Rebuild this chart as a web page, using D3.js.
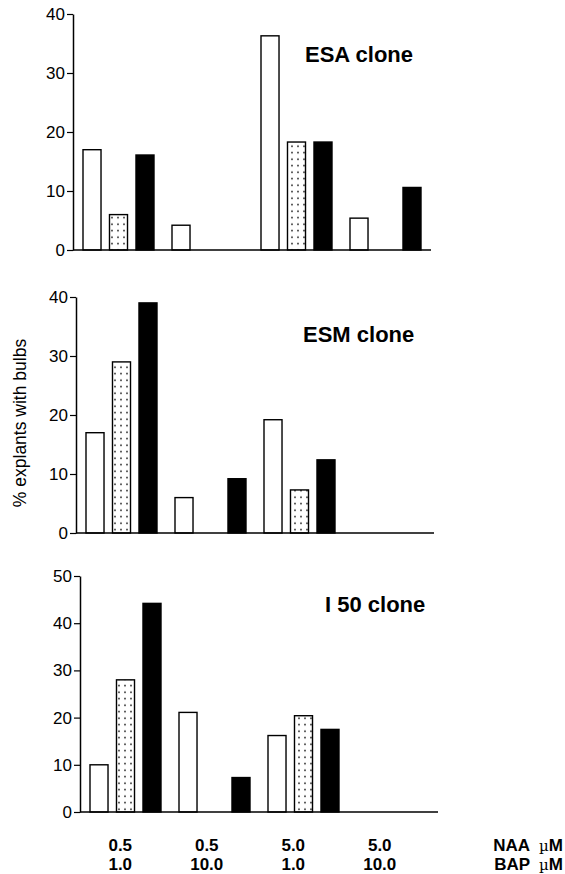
<!DOCTYPE html>
<html>
<head>
<meta charset="utf-8">
<script src="https://cdn.jsdelivr.net/npm/d3@7"></script>
<style>
  body { margin: 0; background: #fff; }
  text { font-family: "Liberation Sans", Arial, sans-serif; fill: #000; }
</style>
</head>
<body>
<div id="chart"></div>
<script>
// treatments (NAA / BAP, µM)
const groups = ["0.5/1.0", "0.5/10.0", "5.0/1.0", "5.0/10.0"];
const naaLabels = ["0.5", "0.5", "5.0", "5.0"];
const bapLabels = ["1.0", "10.0", "1.0", "10.0"];
const series = ["open", "dotted", "solid"];

// % explants with bulbs, one array per bar type
const esaOpen = [17, 4.2, 36.3, 5.4];
const esaDotted = [6, 0, 18.3, 0];
const esaSolid = [16.1, 0, 18.3, 10.6];

const esmOpen = [17, 6, 19.2, 0];
const esmDotted = [29, 0, 7.3, 0];
const esmSolid = [39, 9.2, 12.4, 0];

const i50Open = [10, 21.1, 16.2, 0];
const i50Dotted = [28, 0, 20.4, 0];
const i50Solid = [44.2, 7.3, 17.5, 0];

const yTicksA = [0, 10, 20, 30, 40];
const yTicksB = [0, 10, 20, 30, 40, 50];

const width = 565, height = 874;

const svg = d3.select("#chart").append("svg")
  .attr("width", width)
  .attr("height", height);

// stipple fill for the dotted bars
const pat = svg.append("defs").append("pattern")
  .attr("id", "dots")
  .attr("patternUnits", "userSpaceOnUse")
  .attr("width", 6)
  .attr("height", 6.5);
pat.append("rect").attr("width", 6).attr("height", 6.5).attr("fill", "#fff");
pat.append("circle").attr("cx", 3).attr("cy", 3.2).attr("r", 0.85).attr("fill", "#000");

const panels = [
  { title: "ESA clone", left: 73, top: 14, bottom: 250, max: 40, ticks: yTicksA,
    values: [esaOpen, esaDotted, esaSolid], titleX: 305, titleY: 62 },
  { title: "ESM clone", left: 76, top: 297, bottom: 533, max: 40, ticks: yTicksA,
    values: [esmOpen, esmDotted, esmSolid], titleX: 303, titleY: 342 },
  { title: "I 50 clone", left: 80, top: 576, bottom: 812, max: 50, ticks: yTicksB,
    values: [i50Open, i50Dotted, i50Solid], titleX: 325, titleY: 612 }
];

const axisLen = 358;
const x0 = d3.scaleBand().domain(groups).range([10, 366]);
const x1 = d3.scaleBand().domain(series).range([0, 71]).paddingInner(0.32);
const fills = { open: "#fff", dotted: "url(#dots)", solid: "#000" };

panels.forEach(function (p) {
  const g = svg.append("g").attr("transform", "translate(" + p.left + ",0)");
  const y = d3.scaleLinear().domain([0, p.max]).range([p.bottom, p.top]);

  // bars
  const rows = [];
  groups.forEach(function (grp, i) {
    series.forEach(function (s, j) {
      const v = p.values[j][i];
      if (v > 0) rows.push({ group: grp, series: s, value: v });
    });
  });

  g.selectAll(".bar")
    .data(rows)
    .enter().append("rect")
    .attr("class", "bar")
    .attr("x", function (d) { return x0(d.group) + x1(d.series); })
    .attr("width", x1.bandwidth())
    .attr("y", function (d) { return y(d.value); })
    .attr("height", function (d) { return p.bottom - y(d.value); })
    .attr("fill", function (d) { return fills[d.series]; })
    .attr("stroke", "#000")
    .attr("stroke-width", 1.4);

  // x baseline
  g.append("line")
    .attr("x1", 0).attr("x2", axisLen)
    .attr("y1", p.bottom).attr("y2", p.bottom)
    .attr("stroke", "#000").attr("stroke-width", 1.5);

  // y axis
  const yAxis = g.append("g")
    .call(d3.axisLeft(y).tickValues(p.ticks).tickSize(6).tickSizeOuter(0).tickPadding(2));
  yAxis.select(".domain").attr("stroke-width", 1.5);
  yAxis.selectAll(".tick line").attr("stroke-width", 1.2);
  yAxis.selectAll("text")
    .style("font-size", "17px")
    .style("font-family", "'Liberation Sans', Arial, sans-serif")
    .attr("fill", "#000");

  svg.append("text")
    .attr("x", p.titleX)
    .attr("y", p.titleY)
    .style("font-size", "22px")
    .style("font-weight", "bold")
    .text(p.title);
});

// y-axis title
svg.append("text")
  .attr("transform", "translate(26,423) rotate(-90)")
  .attr("text-anchor", "middle")
  .style("font-size", "17.5px")
  .text("% explants with bulbs");

// treatment labels under the last panel
const xl = d3.scaleBand().domain(groups).range([77, 423]);
const lab = svg.append("g")
  .style("font-size", "17px")
  .style("font-weight", "bold");

lab.selectAll(".naa")
  .data(groups)
  .enter().append("text")
  .attr("class", "naa")
  .attr("x", function (d) { return xl(d) + xl.bandwidth() / 2; })
  .attr("y", 851)
  .attr("text-anchor", "middle")
  .text(function (d, i) { return naaLabels[i]; });

lab.selectAll(".bap")
  .data(groups)
  .enter().append("text")
  .attr("class", "bap")
  .attr("x", function (d) { return xl(d) + xl.bandwidth() / 2; })
  .attr("y", 870)
  .attr("text-anchor", "middle")
  .text(function (d, i) { return bapLabels[i]; });

[["NAA", 851], ["BAP", 870]].forEach(function (r) {
  const t = lab.append("text")
    .attr("x", 563)
    .attr("y", r[1])
    .attr("text-anchor", "end");
  t.append("tspan").text(r[0]);
  t.append("tspan").attr("dx", 9).style("font-weight", "normal")
    .style("font-family", "'DejaVu Serif', serif").style("font-size", "15px").text("\u00b5");
  t.append("tspan").text("M");
});
</script>
</body>
</html>
